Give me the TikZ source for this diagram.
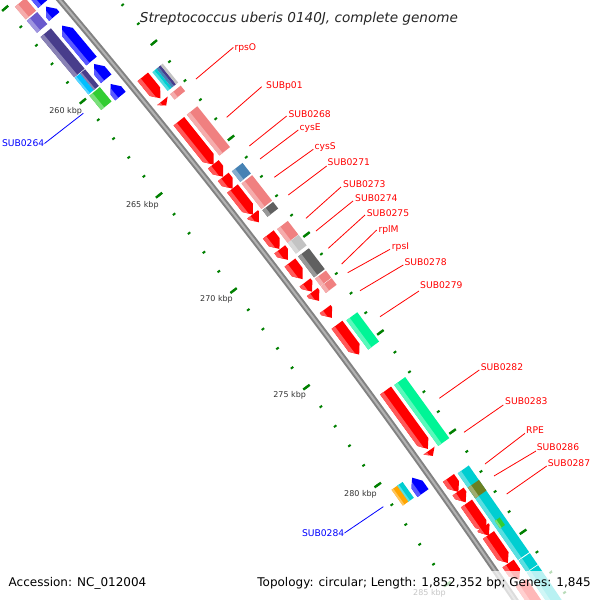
\documentclass[tikz,border=0pt]{standalone}
\usepackage{fontspec}
\setmainfont{DejaVu Sans}[ItalicFont={DejaVu Sans Oblique}]
\def\CX{-5426.6}
\def\CY{4637.9}
\def\RB{7184}
\def\HEAD{8.5}
\newcommand\phiof[2]{\fpeval{atand((#1)-(\CX),(\CY)-(#2))}}
\newcommand\PP[2]{\fpeval{round(\CX+(#2)*sind(#1),3)},\fpeval{round(\CY-(#2)*cosd(#1),3)}}
% feature: X1 Y1 (start) X2 Y2 (end) d_in d_out kind(f/r/b) colour
\newcommand\feat[8]{%
 \edef\fA{\phiof{#1}{#2}}\edef\fB{\phiof{#3}{#4}}%
 \edef\fRi{\fpeval{\RB+(#5)}}\edef\fRo{\fpeval{\RB+(#6)}}%
 \edef\fRm{\fpeval{(\fRi+\fRo)/2}}\edef\fRh{\fpeval{\fRi+0.3*(\fRo-\fRi)}}%
 \edef\fAh{\fpeval{min(\HEAD/\fRm*180/pi,\fB-\fA)}}%
 \if#7f%
  \edef\fH{\fpeval{\fB-\fAh}}\edef\fT{\fpeval{\fH+0.6*(\fB-\fH)}}%
  \edef\tmp{\noexpand\fill[#8] (\PP{\fA}{\fRi}) -- (\PP{\fH}{\fRi}) -- (\PP{\fB}{\fRm}) -- (\PP{\fH}{\fRo}) -- (\PP{\fA}{\fRo}) -- cycle;
   \noexpand\fill[#8!65!white] (\PP{\fA}{\fRi}) -- (\PP{\fH}{\fRi}) -- (\PP{\fT}{\fRh}) -- (\PP{\fA}{\fRh}) -- cycle;}%
 \else\if#7r%
  \edef\fH{\fpeval{\fA+\fAh}}\edef\fT{\fpeval{\fH-0.6*(\fH-\fA)}}%
  \edef\tmp{\noexpand\fill[#8] (\PP{\fB}{\fRi}) -- (\PP{\fH}{\fRi}) -- (\PP{\fA}{\fRm}) -- (\PP{\fH}{\fRo}) -- (\PP{\fB}{\fRo}) -- cycle;
   \noexpand\fill[#8!65!white] (\PP{\fB}{\fRi}) -- (\PP{\fH}{\fRi}) -- (\PP{\fT}{\fRh}) -- (\PP{\fB}{\fRh}) -- cycle;}%
 \else
  \edef\tmp{\noexpand\fill[#8] (\PP{\fA}{\fRi}) -- (\PP{\fB}{\fRi}) -- (\PP{\fB}{\fRo}) -- (\PP{\fA}{\fRo}) -- cycle;
   \noexpand\fill[#8!65!white] (\PP{\fA}{\fRi}) -- (\PP{\fB}{\fRi}) -- (\PP{\fB}{\fRh}) -- (\PP{\fA}{\fRh}) -- cycle;}%
 \fi\fi
 \tmp}
% plain band without highlight
\newcommand\stripebox[7]{%
 \edef\fA{\phiof{#1}{#2}}\edef\fB{\phiof{#3}{#4}}%
 \edef\fRi{\fpeval{\RB+(#5)}}\edef\fRo{\fpeval{\RB+(#6)}}%
 \edef\tmp{\noexpand\fill[#7] (\PP{\fA}{\fRi}) -- (\PP{\fB}{\fRi}) -- (\PP{\fB}{\fRo}) -- (\PP{\fA}{\fRo}) -- cycle;}\tmp}

\definecolor{fRed}{RGB}{255,0,0}
\definecolor{fPink}{RGB}{240,128,128}
\definecolor{fBlue}{RGB}{0,0,255}
\definecolor{fDSlate}{RGB}{72,61,139}
\definecolor{fSlate}{RGB}{106,90,205}
\definecolor{fSky}{RGB}{0,191,255}
\definecolor{fLime}{RGB}{50,205,50}
\definecolor{fCyan}{RGB}{0,206,209}
\definecolor{fOrange}{RGB}{255,165,0}
\definecolor{fGreen}{RGB}{0,245,150}
\definecolor{fSteel}{RGB}{70,130,180}
\definecolor{fDGray}{RGB}{96,96,96}
\definecolor{fLGray}{RGB}{195,195,195}
\definecolor{fOlive}{RGB}{107,128,35}
\definecolor{tickgreen}{RGB}{0,128,0}
\definecolor{bbgray}{RGB}{130,130,130}
\definecolor{bblight}{RGB}{178,178,178}
\tikzset{
 mintick/.style={tickgreen,line width=2pt},
 majtick/.style={tickgreen,line width=2.4pt},
 bbone/.style={bbgray,line width=6pt},
 bbhi/.style={bblight,line width=2pt},
 lab/.style={font=\fontsize{9.2}{11}\selectfont,text=red,text height=6.8pt,text depth=0pt,inner sep=0pt,anchor=west},
 blab/.style={lab,text=blue,anchor=east},
 conn/.style={red,line width=0.8pt},
 bconn/.style={blue,line width=0.8pt},
 kbp/.style={font=\fontsize{8}{9}\selectfont,text=black!80,inner sep=0pt},
 foot/.style={font=\fontsize{12}{14}\selectfont,inner sep=0pt}
}
\begin{document}
\begin{tikzpicture}[x=1pt,y=-1pt]
\useasboundingbox (0,0) rectangle (600,600);
\fill[white] (0,0) rectangle (600,600);
\clip (0,0) rectangle (600,600);
% ruler dots
\foreach \k in {250,...,295}{%
 \edef\kph{\fpeval{\k*360000/1852352}}%
 \edef\tmp{\noexpand\draw[mintick] (\PP{\kph}{7135.5}) -- (\PP{\kph}{7138.5});
  \noexpand\draw[mintick] (\PP{\kph}{7227.5}) -- (\PP{\kph}{7230.5});}\tmp}
\foreach \k in {250,255,...,295}{%
 \edef\kph{\fpeval{\k*360000/1852352}}%
 \edef\tmp{\noexpand\draw[majtick] (\PP{\kph}{7133}) -- (\PP{\kph}{7141});
  \noexpand\draw[majtick] (\PP{\kph}{7225}) -- (\PP{\kph}{7233});}\tmp}
% tick labels
\node[kbp] (t260) at (65.7,110.8) {260 kbp};
\node[kbp] (t265) at (142.3,204.9) {265 kbp};
\node[kbp] (t270) at (216.5,299.5) {270 kbp};
\node[kbp] (t275) at (289.7,395.5) {275 kbp};
\node[kbp] (t280) at (360.5,494) {280 kbp};
\node[kbp] (t285) at (429.5,593.4) {285 kbp};
% backbone
\def\bbpts{}
\foreach \k in {250,...,295}{\edef\kph{\fpeval{\k*360000/1852352}}\xdef\bbpts{\bbpts(\PP{\kph}{\RB})}}
\edef\tmp{\noexpand\draw[bbone] plot coordinates {\bbpts};\noexpand\draw[bbhi] plot coordinates {\bbpts};}\tmp
% inner slot 1: blue reverse genes
\feat{15}{-30}{41.5}{5}{-21.5}{-8}{r}{fBlue}
\feat{46.7}{6}{54}{16.7}{-21.5}{-8}{r}{fBlue}
\feat{66.7}{21.7}{90.7}{61.7}{-21.5}{-8}{r}{fBlue}
\feat{96.7}{61.7}{106.7}{78.3}{-21.5}{-8}{r}{fBlue}
\feat{113.3}{81.7}{121.7}{95}{-21.5}{-8}{r}{fBlue}
\feat{413}{477}{424.5}{492}{-21.5}{-8}{r}{fBlue}
% inner slot 2
\feat{20}{2.5}{29}{16.7}{-38.5}{-25}{b}{fPink}
\feat{30.3}{17.8}{40.3}{30}{-38.5}{-25}{b}{fSlate}
\feat{45}{33.3}{79}{73.3}{-38.5}{-25}{b}{fDSlate}
\feat{80}{73.5}{92}{91.5}{-31.75}{-25}{b}{fDSlate}
\feat{80}{73.5}{92}{91.5}{-38.5}{-31.75}{b}{fSky}
\feat{94.3}{91.7}{106}{106}{-38.5}{-25}{b}{fLime}
\feat{397.3}{485.7}{408.3}{501.7}{-31.75}{-25}{b}{fCyan}
\feat{397.3}{485.7}{408.3}{501.7}{-38.5}{-31.75}{b}{fOrange}
% outer slot 1: red forward genes
\feat{141}{78.3}{157}{101}{8}{21.5}{f}{fRed}
\feat{161}{102}{165}{106.5}{8}{21.5}{f}{fRed}
\feat{178.3}{121.7}{210.5}{167}{8}{21.5}{f}{fRed}
\feat{212.5}{165}{220}{179.3}{8}{21.5}{f}{fRed}
\feat{222.5}{177.5}{231.7}{189.3}{8}{21.5}{f}{fRed}
\feat{231.7}{189.2}{252.3}{215}{8}{21.5}{f}{fRed}
\feat{252.5}{214.5}{258}{223}{8}{21.5}{f}{fRed}
\feat{268.3}{234.5}{279}{249.3}{8}{21.5}{f}{fRed}
\feat{280}{249.2}{286.7}{260.7}{8}{21.5}{f}{fRed}
\feat{290}{262.5}{300}{281}{8}{21.5}{f}{fRed}
\feat{305}{282.5}{310}{293.3}{8}{21.5}{f}{fRed}
\feat{311.7}{292.5}{316.7}{302.7}{8}{21.5}{f}{fRed}
\feat{325}{309.2}{329}{320}{8}{21.5}{f}{fRed}
\feat{336.7}{325}{357.3}{356}{8}{21.5}{f}{fRed}
\feat{384.7}{391.2}{427.3}{449.3}{8}{21.5}{f}{fRed}
\feat{428.5}{451}{432}{456.5}{8}{21.5}{f}{fRed}
\feat{446.7}{479.2}{457.3}{492.7}{8}{21.5}{f}{fRed}
\feat{456.7}{492.5}{463.3}{504}{8}{21.5}{f}{fRed}
\feat{465}{504.5}{486}{531}{8}{21.5}{f}{fRed}
\feat{481.3}{528.3}{487.3}{536.7}{8}{21.5}{f}{fRed}
\feat{486.7}{536.2}{506}{564.3}{8}{21.5}{f}{fRed}
\feat{506.7}{564.5}{516}{582}{8}{21.5}{f}{fRed}
\feat{518}{585}{545}{625}{8}{21.5}{f}{fRed}
% outer slot 2
\stripebox{154.3}{70.5}{168.3}{90.5}{25}{27.7}{fCyan!70!white}
\stripebox{154.3}{70.5}{168.3}{90.5}{27.7}{30.4}{fCyan}
\stripebox{154.3}{70.5}{168.3}{90.5}{30.4}{33.1}{fSteel}
\stripebox{154.3}{70.5}{168.3}{90.5}{33.1}{35.8}{fDSlate}
\stripebox{154.3}{70.5}{168.3}{90.5}{35.8}{38.5}{fLGray}
\feat{174.7}{90.5}{179}{96}{25}{38.5}{b}{fPink}
\feat{191.7}{110.8}{224.2}{151.7}{25}{38.5}{b}{fPink}
\feat{236.7}{167.5}{245.8}{177.5}{25}{38.5}{b}{fSteel}
\feat{247}{179.2}{267.5}{204.2}{25}{38.5}{b}{fPink}
\feat{268.5}{205.5}{273}{212.5}{25}{38.5}{b}{fDGray}
\feat{282.5}{225}{293.3}{238.3}{25}{38.5}{b}{fPink}
\feat{293.6}{238.6}{301.7}{249.2}{25}{38.5}{b}{fLGray}
\feat{303.3}{252.5}{317}{275}{25}{38.5}{b}{fDGray}
\feat{320}{275}{325.4}{282.1}{25}{38.5}{b}{fPink}
\feat{325.9}{282.5}{330.8}{289.2}{25}{38.5}{b}{fPink}
\feat{351.3}{316.7}{373.3}{345.8}{25}{38.5}{b}{fGreen}
\feat{399.5}{381.2}{444.2}{441.7}{25}{38.5}{b}{fGreen}
\feat{462.8}{469.7}{523.5}{556}{25}{38.5}{b}{fCyan}
\feat{524.2}{557}{531.5}{568.5}{25}{38.5}{b}{fCyan}
\feat{532.2}{569.2}{560}{610}{25}{38.5}{b}{fCyan}
\feat{471.7}{485}{480}{495}{25}{38.5}{b}{fOlive}
\feat{499}{518}{505}{525}{28}{34}{b}{fLime}
% label connectors (outer, red)
\coordinate (g1) at (196,79);       \coordinate (e1) at (233.3,47.5);
\coordinate (g2) at (226.7,117.3);  \coordinate (e2) at (261.7,86.7);
\coordinate (g3) at (249.3,146);    \coordinate (e3) at (286.7,116);
\coordinate (g4) at (260,159);      \coordinate (e4) at (298.3,130);
\coordinate (g5) at (274.3,177.3);  \coordinate (e5) at (313.3,149.3);
\coordinate (g6) at (288.3,195);    \coordinate (e6) at (326.7,166);
\coordinate (g7) at (306,218.3);    \coordinate (e7) at (341,187);
\coordinate (g8) at (316,231);      \coordinate (e8) at (353,201);
\coordinate (g9) at (328.3,248.3);  \coordinate (e9) at (365,215);
\coordinate (g10) at (341.7,264);   \coordinate (e10) at (376.7,230);
\coordinate (g11) at (347.7,272.7); \coordinate (e11) at (390,249.3);
\coordinate (g12) at (360,290.7);   \coordinate (e12) at (403.3,265);
\coordinate (g13) at (380,316.7);   \coordinate (e13) at (419,291);
\coordinate (g14) at (439.3,398.3); \coordinate (e14) at (479.3,370);
\coordinate (g15) at (464,432.3);   \coordinate (e15) at (503.3,405);
\coordinate (g16) at (485,464);     \coordinate (e16) at (525,433.3);
\coordinate (g17) at (494,476);     \coordinate (e17) at (536,451);
\coordinate (g18) at (506.7,494);   \coordinate (e18) at (546.7,466);
\foreach \i in {1,...,18}{\draw[conn] (g\i) -- (e\i);}
\node[lab] (l1) at (234.3,47) {rpsO};
\node[lab] (l2) at (266,85.5) {SUBp01};
\node[lab] (l3) at (288.3,114.2) {SUB0268};
\node[lab] (l4) at (299.3,127.5) {cysE};
\node[lab] (l5) at (314.3,145.8) {cysS};
\node[lab] (l6) at (327.5,162.5) {SUB0271};
\node[lab] (l7) at (343,183.8) {SUB0273};
\node[lab] (l8) at (355,198) {SUB0274};
\node[lab] (l9) at (366.7,213.3) {SUB0275};
\node[lab] (l10) at (378.3,228.7) {rplM};
\node[lab] (l11) at (391.7,246) {rpsI};
\node[lab] (l12) at (404.3,262) {SUB0278};
\node[lab] (l13) at (420,285.5) {SUB0279};
\node[lab] (l14) at (480.7,367) {SUB0282};
\node[lab] (l15) at (505,401) {SUB0283};
\node[lab] (l16) at (526,430.5) {RPE};
\node[lab] (l17) at (536.7,447.2) {SUB0286};
\node[lab] (l18) at (547.7,463) {SUB0287};
% inner labels (blue)
\coordinate (gb1) at (83.3,113.3);
\coordinate (gb2) at (383.3,506.7);
\node[blab] (lb1) at (44.5,143.5) {SUB0264};
\node[blab] (lb2) at (344.5,533) {SUB0284};
\draw[bconn] (gb1) -- (lb1.east);
\draw[bconn] (gb2) -- (lb2.east);
% title
\node[font=\fontsize{13.6}{16}\selectfont\itshape,text=black!85,anchor=base,inner sep=0pt] (title) at (299,22.7) {Streptococcus uberis 0140J, complete genome};
% footer band
\fill[white,opacity=0.72] (0,571) rectangle (600,600);
\node[foot,anchor=base west] (acc) at (8.5,586.5) {Accession: NC\_012004};
\node[foot,anchor=base east] (topo) at (591,586.5) {Topology: circular; Length: 1,852,352 bp; Genes: 1,845};
\end{tikzpicture}
\end{document}
